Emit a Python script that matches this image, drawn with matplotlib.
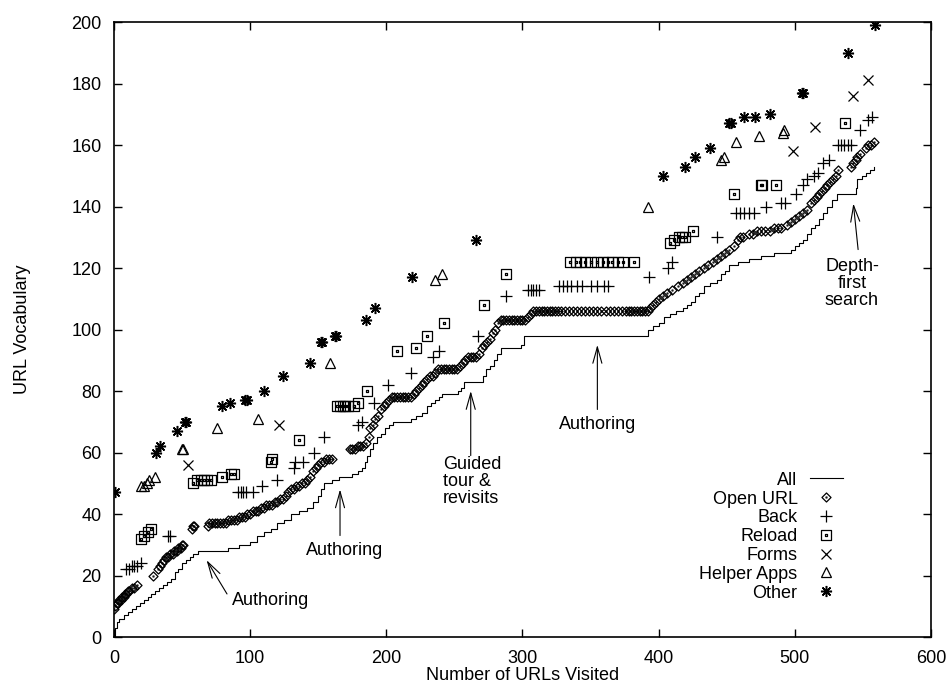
import matplotlib.pyplot as plt
from matplotlib.path import Path
from matplotlib.transforms import Affine2D

plt.rcParams['font.family'] = ['Liberation Sans', 'DejaVu Sans']
plt.rcParams['font.size'] = 13

# "All" vocabulary curve (step breakpoints)
all_x = [0, 1, 2, 4, 7, 10, 13, 16, 19, 22, 25, 27, 30, 33, 36, 39, 42, 45, 47, 50,
         53, 56, 58, 62, 76, 84, 92, 100, 105, 110, 115, 120, 125, 130, 136, 142, 146,
         150, 152, 154, 160, 165, 175, 179, 182, 184, 186, 188, 190, 193, 196, 199, 202,
         205, 218, 222, 226, 230, 233, 236, 239, 241, 251, 253, 255, 257, 269, 271, 273,
         276, 279, 281, 284, 299, 301, 390, 392, 396, 400, 404, 408, 413, 418, 421, 424,
         427, 430, 433, 438, 443, 446, 449, 452, 458, 466, 475, 485, 497, 500, 503, 506,
         509, 512, 515, 518, 521, 524, 527, 531, 543, 545, 546, 549, 552, 555, 558]
all_y = [0, 3, 5, 6, 7, 8, 9, 10, 11, 12, 13, 14, 15, 16, 17, 18, 19, 21, 22, 24,
         25, 26, 27, 28, 28, 29, 30, 31, 33, 34, 35, 37, 38, 40, 41, 42, 44,
         46, 48, 50, 51, 52, 53, 54, 55, 57, 59, 61, 63, 65, 66, 68, 69,
         70, 71, 72, 73, 75, 76, 77, 78, 79, 79, 80, 81, 83, 83, 85, 87,
         88, 90, 92, 94, 95, 98, 98, 100, 101, 102, 104, 105, 106, 107, 108, 109,
         111, 112, 114, 115, 116, 118, 119, 121, 122, 123, 124, 125, 126, 127, 128, 129,
         131, 133, 134, 136, 138, 140, 142, 144, 144, 146, 149, 150, 151, 152, 153]

open_x = [0, 1, 2, 3, 4, 5, 6, 7, 8, 9, 10, 11, 13, 15, 17, 29,
          32, 34, 35, 37, 38, 40, 41, 43, 44, 46, 47, 49, 50, 51, 57, 58, 59,
          69, 70, 72, 74, 76, 78, 80, 82, 84, 86, 88, 90, 92, 94, 96, 98, 100,
          102, 104, 106, 108, 110, 112, 114, 116, 118, 120, 122, 124, 126, 128, 130,
          132, 134, 136, 138, 140, 142, 144, 146, 148, 150, 152, 154, 156, 158, 160,
          173, 175, 177, 179, 181, 183, 185, 187, 188, 190, 192, 194, 196, 198, 200,
          202, 204, 206, 208, 210, 212, 214, 216, 218, 220, 222, 224, 226, 228, 230,
          232, 234, 236, 238, 240, 242, 244, 246, 248, 250, 252, 254, 256, 258, 260,
          262, 264, 266, 268, 270, 272, 274, 276, 278, 280, 282, 284, 286, 288, 290,
          292, 294, 296, 298, 300, 302, 304, 306, 308, 310, 312, 314, 316, 318, 320,
          322, 324, 326, 328, 331, 334, 337, 340, 343, 346, 349, 352, 355, 358, 361,
          364, 367, 370, 373, 376, 378, 380, 382, 384, 386, 388, 390, 392,
          394, 396, 398, 400, 403, 406, 410, 414, 418, 421, 424, 427, 430, 433, 436,
          440, 443, 446, 449, 452, 455, 458, 460, 462, 466, 469, 472, 475, 478, 482,
          485, 488, 490, 494, 497, 500, 503, 506, 509, 512, 514, 516, 518, 520, 522,
          524, 526, 528, 530, 532, 541, 543, 545, 546, 548, 552, 554, 556, 558]
open_y = [9, 10, 11, 11, 12, 12, 13, 13, 14, 14, 15, 15, 16, 16, 17, 20,
          22, 23, 24, 25, 26, 26, 27, 27, 28, 28, 29, 29, 30, 30, 35, 36, 36,
          36, 37, 37, 37, 37, 37, 37, 37, 38, 38, 38, 38, 39, 39, 39, 40, 40,
          41, 41, 41, 42, 42, 43, 43, 43, 44, 44, 45, 45, 46, 47, 48,
          48, 49, 49, 50, 50, 51, 52, 54, 55, 56, 57, 57, 58, 58, 58,
          61, 61, 61, 62, 62, 62, 63, 65, 68, 69, 71, 72, 74, 75, 76,
          77, 78, 78, 78, 78, 78, 78, 78, 78, 79, 80, 81, 82, 83, 84,
          85, 85, 86, 87, 87, 87, 87, 87, 87, 87, 87, 88, 89, 90, 91,
          91, 91, 91, 92, 94, 95, 96, 97, 99, 100, 102, 103, 103, 103, 103,
          103, 103, 103, 103, 103, 103, 104, 105, 106, 106, 106, 106, 106, 106, 106,
          106, 106, 106, 106, 106, 106, 106, 106, 106, 106, 106, 106, 106, 106, 106,
          106, 106, 106, 106, 106, 106, 106, 106, 106, 106, 106, 106, 106,
          107, 108, 109, 110, 111, 112, 113, 114, 115, 116, 117, 118, 119, 120, 121,
          122, 123, 124, 125, 126, 127, 129, 130, 130, 131, 131, 132, 132, 132, 132,
          133, 133, 133, 134, 135, 136, 137, 138, 139, 141, 142, 143, 144, 145, 146,
          147, 148, 149, 150, 152, 153, 154, 155, 156, 157, 159, 160, 160, 161]

back_x = [9, 11, 13, 15, 17, 20, 40, 41, 91, 93, 95, 97, 102, 109, 120, 132, 133, 139,
          147, 154, 179, 182, 191, 201, 218, 234, 239, 267, 288, 304, 306, 308, 310, 312,
          327, 330, 333, 336, 340, 344, 350, 355, 360, 363, 393, 407, 410, 443,
          457, 460, 463, 466, 470, 479, 490, 493, 501, 506, 509, 514, 517, 521, 525,
          532, 534, 536, 539, 541, 548, 554, 557]
back_y = [22, 22, 23, 23, 23, 24, 33, 33, 47, 47, 47, 47, 47, 49, 51, 55, 57, 57,
          60, 65, 69, 70, 76, 82, 86, 91, 93, 98, 111, 113, 113, 113, 113, 113,
          114, 114, 114, 114, 114, 114, 114, 114, 114, 114, 117, 120, 122, 130,
          138, 138, 138, 138, 138, 140, 141, 141, 144, 147, 149, 150, 151, 154, 155,
          160, 160, 160, 160, 160, 165, 168, 169]

reload_x = [20, 22, 25, 27, 58, 61, 64, 66, 68, 71, 79, 86, 88, 115, 116, 136,
            164, 166, 168, 170, 172, 176, 179, 186, 208, 222, 230, 242, 272, 288,
            335, 339, 342, 346, 350, 355, 359, 363, 366, 370, 374, 382,
            408, 411, 415, 417, 419, 425, 455, 475, 476, 486, 537]
reload_y = [32, 33, 34, 35, 50, 51, 51, 51, 51, 51, 52, 53, 53, 57, 58, 64,
            75, 75, 75, 75, 75, 75, 76, 80, 93, 94, 98, 102, 108, 118,
            122, 122, 122, 122, 122, 122, 122, 122, 122, 122, 122, 122,
            128, 129, 130, 130, 130, 132, 144, 147, 147, 147, 167]

forms_x = [54, 121, 499, 515, 543, 554]
forms_y = [56, 69, 158, 166, 176, 181]

helper_x = [20, 22, 24, 26, 30, 50, 51, 76, 106, 159, 236, 241, 392, 446, 448, 457,
            474, 491, 492]
helper_y = [49, 49, 50, 51, 52, 61, 61, 68, 71, 89, 116, 118, 140, 155, 156, 161,
            163, 164, 165]

other_x = [1, 31, 34, 46, 52, 53, 79, 85, 96, 98, 110, 124, 144, 152, 153, 162, 163,
           185, 192, 219, 266, 403, 419, 427, 438, 452, 453, 463, 471, 482, 505, 506,
           539, 559]
other_y = [47, 60, 62, 67, 70, 70, 75, 76, 77, 77, 80, 85, 89, 96, 96, 98, 98,
           103, 107, 117, 129, 150, 153, 156, 159, 167, 167, 169, 169, 170, 177, 177,
           190, 199]

series_labels = ['All', 'Open URL', 'Back', 'Reload', 'Forms', 'Helper Apps', 'Other']


def with_dot(verts):
    outline = Path(verts + [verts[0]], closed=True)
    dot = Path.unit_rectangle().transformed(Affine2D().translate(-0.5, -0.5).scale(0.1))
    return Path.make_compound_path(outline, dot)


diamond = with_dot([(0, -0.5), (0.5, 0), (0, 0.5), (-0.5, 0)])
square = with_dot([(-0.5, -0.5), (0.5, -0.5), (0.5, 0.5), (-0.5, 0.5)])

fig = plt.figure(figsize=(9.46, 6.84), dpi=100)
ax = fig.add_axes([0.1205, 0.0687, 0.8636, 0.8991])

ax.plot(all_x, all_y, color='black', lw=0.8, drawstyle='steps-post', label=series_labels[0])

mk = dict(linestyle='none', mfc='none', mec='black', mew=0.9, color='black')
ax.plot(open_x, open_y, marker=diamond, ms=6.5, label=series_labels[1], **mk)
ax.plot(back_x, back_y, marker='+', ms=8, label=series_labels[2], **mk)
ax.plot(reload_x, reload_y, marker=square, ms=7.5, label=series_labels[3], **mk)
ax.plot(forms_x, forms_y, marker='x', ms=6.5, label=series_labels[4], **mk)
ax.plot(helper_x, helper_y, marker='^', ms=7, label=series_labels[5], **mk)
ax.plot(other_x, other_y, marker=(8, 2, 0), ms=8, label=series_labels[6],
        **dict(mk, mew=1.1))

ax.set_xlim(0, 600)
ax.set_ylim(0, 200)
ax.set_xticks(range(0, 601, 100))
ax.set_yticks(range(0, 201, 20))
ax.tick_params(direction='in', length=6, width=1, top=True, right=True, pad=9)
for s in ax.spines.values():
    s.set_linewidth(1.2)
ax.set_xlabel('Number of URLs Visited', labelpad=0)
ax.set_ylabel('URL Vocabulary', labelpad=29)

arrow = dict(arrowstyle='->,head_length=0.9,head_width=0.25', lw=0.8, color='black',
             shrinkA=0, shrinkB=0)
ax.annotate('', xy=(68, 25), xytext=(83, 14), arrowprops=arrow)
ax.text(87, 12, 'Authoring', ha='left', va='center')
ax.annotate('', xy=(166, 48), xytext=(166, 33), arrowprops=arrow)
ax.text(141, 28, 'Authoring', ha='left', va='center')
ax.annotate('', xy=(262, 80), xytext=(262, 59), arrowprops=arrow)
ax.text(241.5, 50.5, 'Guided\ntour &\nrevisits', ha='left', va='center', linespacing=1.0)
ax.annotate('', xy=(355, 95), xytext=(355, 74), arrowprops=arrow)
ax.text(355, 69, 'Authoring', ha='center', va='center')
ax.annotate('', xy=(543, 141), xytext=(546.5, 126), arrowprops=arrow)
ax.text(542, 115, 'Depth-\nfirst\nsearch', ha='center', va='center', linespacing=1.0)

ax.legend(loc='lower right', bbox_to_anchor=(0.903, 0.043), frameon=False,
          markerfirst=False, numpoints=1, handlelength=1.8, handletextpad=0.7,
          labelspacing=0.1, borderpad=0)

fig.savefig('out.png', dpi=100)
